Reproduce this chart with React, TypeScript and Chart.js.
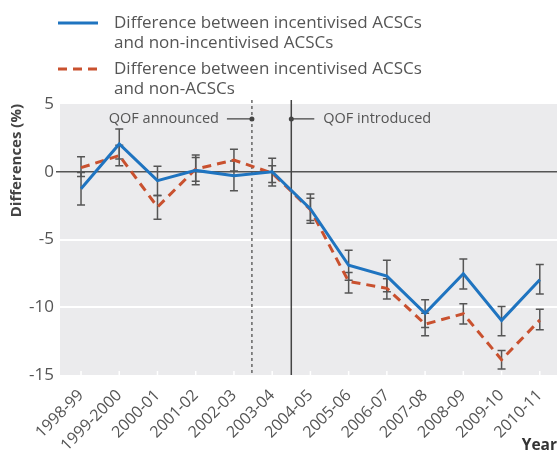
import React, { useEffect, useRef } from "react";
import { Chart, registerables } from "chart.js";

Chart.register(...registerables);

const years = ["1998-99", "1999-2000", "2000-01", "2001-02", "2002-03", "2003-04", "2004-05", "2005-06", "2006-07", "2007-08", "2008-09", "2009-10", "2010-11"];

const diffNonIncentivised = [-1.25, 2.05, -0.66, 0.1, -0.3, 0.0, -2.75, -6.9, -7.7, -10.45, -7.53, -10.97, -7.97];
const diffNonIncentivisedLow = [-2.45, 0.95, -1.76, -0.96, -1.4, -1.05, -3.8, -8.0, -8.85, -11.5, -8.66, -12.1, -9.03];
const diffNonIncentivisedHigh = [-0.05, 3.15, 0.4, 1.23, 0.8, 1.0, -1.65, -5.8, -6.54, -9.45, -6.44, -9.94, -6.84];

const diffNonACSC = [0.3, 1.2, -2.6, 0.2, 0.86, -0.1, -2.8, -8.1, -8.6, -11.25, -10.48, -13.87, -10.95];
const diffNonACSCLow = [-0.35, 0.44, -3.5, -0.7, 0.06, -0.8, -3.6, -8.95, -9.4, -12.1, -11.24, -14.56, -11.66];
const diffNonACSCHigh = [1.1, 1.96, -1.75, 1.05, 1.66, 0.44, -1.95, -7.43, -7.9, -10.45, -9.74, -13.2, -10.14];

const yTicks = [5, 0, -5, -10, -15];
const legendLabels = [
  ["Difference between incentivised ACSCs", "and non-incentivised ACSCs"],
  ["Difference between incentivised ACSCs", "and non-ACSCs"],
];
const qofAnnouncedAt = 4.47;
const qofIntroducedAt = 5.5;
const qofLabelY = 3.9;
const qofAnnouncedText = "QOF announced";
const qofIntroducedText = "QOF introduced";

const BLUE = "#1f74c0";
const RED = "#c9512f";
const GREY_TEXT = "#555555";
const BAR = "#555555";
const FONT = "'Open Sans', 'DejaVu Sans', sans-serif";

export default function App() {
  const ref = useRef<HTMLCanvasElement | null>(null);

  useEffect(() => {
    if (!ref.current) return;
    const ranges = [
      { low: diffNonIncentivisedLow, high: diffNonIncentivisedHigh },
      { low: diffNonACSCLow, high: diffNonACSCHigh },
    ];

    const decor = {
      id: "decor",
      beforeDatasetsDraw(chart: any) {
        const { ctx, chartArea: a, scales } = chart;
        const xs = scales.x, ys = scales.y;
        ctx.save();
        ctx.strokeStyle = "#ffffff";
        ctx.lineWidth = 1.5;
        years.forEach((_, i) => {
          const px = xs.getPixelForValue(i);
          ctx.beginPath();
          ctx.moveTo(px, a.bottom);
          ctx.lineTo(px, a.bottom - 4);
          ctx.stroke();
        });
        const xa = xs.getPixelForValue(qofAnnouncedAt);
        const xi = xs.getPixelForValue(qofIntroducedAt);
        ctx.strokeStyle = "#444";
        ctx.lineWidth = 1.2;
        ctx.setLineDash([3, 3]);
        ctx.beginPath();
        ctx.moveTo(xa, a.top - 4);
        ctx.lineTo(xa, a.bottom);
        ctx.stroke();
        ctx.setLineDash([]);
        ctx.lineWidth = 1.5;
        ctx.beginPath();
        ctx.moveTo(xi, a.top - 4);
        ctx.lineTo(xi, a.bottom);
        ctx.stroke();
        const ly = ys.getPixelForValue(qofLabelY);
        ctx.lineWidth = 1.2;
        ctx.beginPath();
        ctx.moveTo(xa - 25, ly);
        ctx.lineTo(xa, ly);
        ctx.moveTo(xi, ly);
        ctx.lineTo(xi + 23, ly);
        ctx.stroke();
        ctx.fillStyle = "#444";
        [xa, xi].forEach((px) => {
          ctx.beginPath();
          ctx.arc(px, ly, 2.5, 0, Math.PI * 2);
          ctx.fill();
        });
        ctx.fillStyle = GREY_TEXT;
        ctx.font = `14.5px ${FONT}`;
        ctx.textBaseline = "middle";
        ctx.textAlign = "right";
        ctx.fillText(qofAnnouncedText, xa - 33, ly);
        ctx.textAlign = "left";
        ctx.fillText(qofIntroducedText, xi + 32, ly);
        ctx.strokeStyle = BAR;
        ctx.lineWidth = 1.5;
        ranges.forEach((r) => {
          r.low.forEach((lo, i) => {
            const px = xs.getPixelForValue(i);
            const y1 = ys.getPixelForValue(lo);
            const y2 = ys.getPixelForValue(r.high[i]);
            ctx.beginPath();
            ctx.moveTo(px, y1);
            ctx.lineTo(px, y2);
            ctx.moveTo(px - 4, y1);
            ctx.lineTo(px + 4, y1);
            ctx.moveTo(px - 4, y2);
            ctx.lineTo(px + 4, y2);
            ctx.stroke();
          });
        });
        ctx.restore();
      },
      beforeDraw(chart: any) {
        const { ctx, chartArea: a } = chart;
        ctx.save();
        ctx.fillStyle = "#ebebed";
        ctx.fillRect(a.left, a.top, a.right - a.left, a.bottom - a.top);
        ctx.restore();
      },
      afterDraw(chart: any) {
        const { ctx } = chart;
        ctx.save();
        const rows = [
          { color: BLUE, dash: [] as number[], y: 23 },
          { color: RED, dash: [9, 6], y: 69 },
        ];
        rows.forEach((r, k) => {
          ctx.strokeStyle = r.color;
          ctx.lineWidth = 3;
          ctx.setLineDash(r.dash);
          ctx.beginPath();
          ctx.moveTo(58, r.y);
          ctx.lineTo(98, r.y);
          ctx.stroke();
          ctx.setLineDash([]);
          ctx.fillStyle = GREY_TEXT;
          ctx.font = `17px ${FONT}`;
          ctx.textAlign = "left";
          ctx.textBaseline = "middle";
          legendLabels[k].forEach((t, j) => ctx.fillText(t, 114, r.y + j * 20));
        });
        ctx.restore();
      },
    };

    const chart = new Chart(ref.current, {
      type: "line",
      data: {
        datasets: [
          {
            label: legendLabels[0].join(" "),
            data: diffNonIncentivised.map((v, i) => ({ x: i, y: v })),
            borderColor: BLUE,
            borderWidth: 3,
            pointRadius: 0,
            tension: 0,
            fill: false,
          },
          {
            label: legendLabels[1].join(" "),
            data: diffNonACSC.map((v, i) => ({ x: i, y: v })),
            borderColor: RED,
            borderWidth: 3,
            borderDash: [9, 6],
            pointRadius: 0,
            tension: 0,
            fill: false,
          },
        ],
      },
      options: {
        animation: false,
        responsive: false,
        maintainAspectRatio: false,
        layout: { padding: { top: 104, left: 0, right: 0, bottom: 0 } },
        plugins: { legend: { display: false }, tooltip: { enabled: false } },
        scales: {
          x: {
            type: "linear",
            min: -0.55,
            max: 12.45,
            border: { display: false },
            grid: { display: false },
            afterFit: (s: any) => { s.height = 80; },
            afterBuildTicks: (s: any) => { s.ticks = years.map((_, i) => ({ value: i })); },
            ticks: {
              autoSkip: false,
              minRotation: 45,
              maxRotation: 45,
              padding: 3,
              color: GREY_TEXT,
              font: { family: FONT, size: 16 },
              callback: (v: any) => years[v] ?? "",
            },
            title: {
              display: true,
              text: "Year",
              align: "end",
              color: "#333",
              font: { family: FONT, size: 15.5, weight: "bold" },
              padding: { top: 0, bottom: 0 },
            },
          },
          y: {
            min: -15,
            max: 5,
            border: { display: false },
            afterFit: (s: any) => { s.width = 60; },
            afterBuildTicks: (s: any) => { s.ticks = yTicks.map((v) => ({ value: v })); },
            grid: {
              color: (c: any) => (c.tick && c.tick.value === 0 ? "#555" : (c.tick && (c.tick.value === -5 || c.tick.value === -10) ? "#ffffff" : "rgba(0,0,0,0)")),
              lineWidth: (c: any) => (c.tick && c.tick.value === 0 ? 1.5 : 2),
              tickColor: (c: any) => (c.tick && c.tick.value === 0 ? "#555" : "rgba(0,0,0,0)"),
              tickLength: 4,
            },
            ticks: {
              padding: 2,
              color: GREY_TEXT,
              font: { family: FONT, size: 17 },
            },
            title: {
              display: true,
              text: "Differences (%)",
              align: "end",
              color: "#444",
              font: { family: FONT, size: 15, weight: "bold" },
              padding: { top: 8, bottom: 0 },
            },
          },
        },
      },
      plugins: [decor],
    } as any);
    return () => chart.destroy();
  }, []);

  return (
    <div style={{ position: "fixed", left: 0, top: 0, width: 557, height: 455, background: "#fff" }}>
      <canvas ref={ref} width={557} height={455} style={{ width: 557, height: 455 }} />
    </div>
  );
}
